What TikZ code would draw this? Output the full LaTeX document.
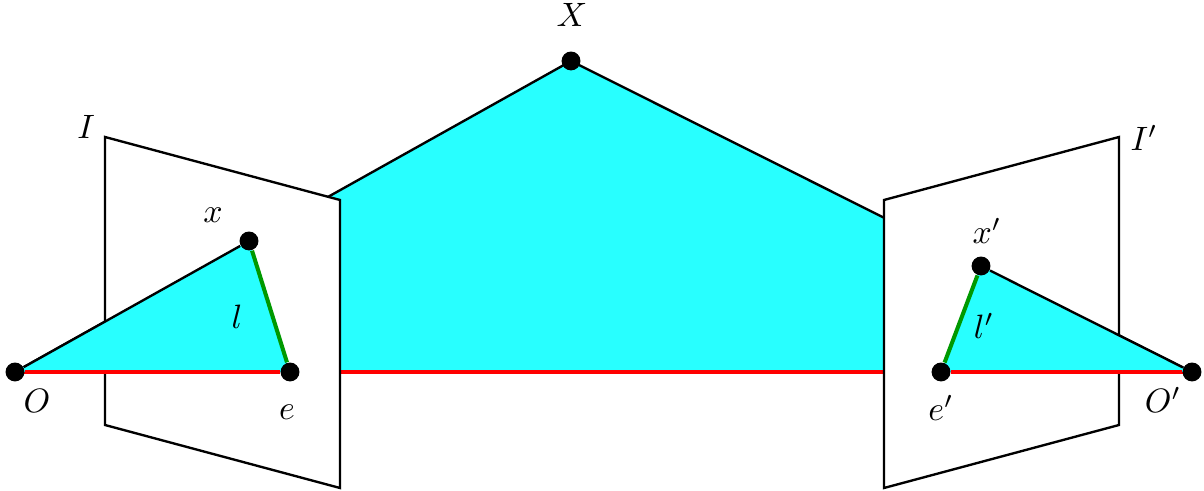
\documentclass[tikz,border=0pt]{standalone}
\usepackage{amsmath}
\usepackage{xcolor}
\usepackage{tikz}
\definecolor{epicyan}{RGB}{40,255,255}
\tikzset{
    dot/.style={circle, fill=black, inner sep=0pt, minimum size=5.6pt},
    plane/.style={draw=black, fill=white, line width=0.7pt, line join=miter},
    ray/.style={draw=black, line width=0.7pt},
    baseline/.style={draw=red, line width=1.2pt},
    epiline/.style={draw=green!60!black, line width=1.2pt},
    wedge/.style={fill=epicyan},
    tag/.style={inner sep=0pt},
}
\begin{document}
\begin{tikzpicture}[x=0.0104cm, y=-0.0104cm]
    \useasboundingbox (0,0) rectangle (1204,491);
    \coordinate (OL) at (15,372);
    \coordinate (OR) at (1192,372);
    \coordinate (Xp) at (571,61);
    % epipolar plane, behind both images
    \fill[wedge] (Xp) -- (OL) -- (OR) -- cycle;
    \draw[ray] (OL) -- (Xp) -- (OR);
    \draw[baseline] (OL) -- (OR);
    % image planes
    \draw[plane] (105,137) -- (340,200) -- (340,488) -- (105,425) -- cycle;
    \draw[plane] (1119,137) -- (884,200) -- (884,488) -- (1119,425) -- cycle;
    \coordinate (xL) at (249,241);
    \coordinate (eL) at (290,372);
    \coordinate (xR) at (981,266);
    \coordinate (eR) at (941,372);
    \fill[wedge] (OL) -- (xL) -- (eL) -- cycle;
    \fill[wedge] (OR) -- (xR) -- (eR) -- cycle;
    \node[dot] (o) at (OL) {};
    \node[dot] (op) at (OR) {};
    \node[dot] (x) at (Xp) {};
    \node[dot] (xl) at (xL) {};
    \node[dot] (el) at (eL) {};
    \node[dot] (xr) at (xR) {};
    \node[dot] (er) at (eR) {};
    \draw[ray] (o) -- (xl);
    \draw[ray] (op) -- (xr);
    \draw[epiline] (xl) -- (el);
    \draw[epiline] (xr) -- (er);
    \draw[baseline] (o) -- (el);
    \draw[baseline] (op) -- (er);
    % labels
    \node[tag] (tX) at (572,15) {$X$};
    \node[tag] (tI) at (86,127) {$I$};
    \node[tag] (tIp) at (1144,138) {$I'$};
    \node[tag] (tx) at (213,215) {$x$};
    \node[tag] (txp) at (987,231) {$x'$};
    \node[tag] (tl) at (237,317) {$l$};
    \node[tag] (tlp) at (984,326) {$l'$};
    \node[tag] (tO) at (37,401) {$O$};
    \node[tag] (te) at (287,412) {$e$};
    \node[tag] (tep) at (941,408) {$e'$};
    \node[tag] (tOp) at (1163,400) {$O'$};
\end{tikzpicture}
\end{document}
